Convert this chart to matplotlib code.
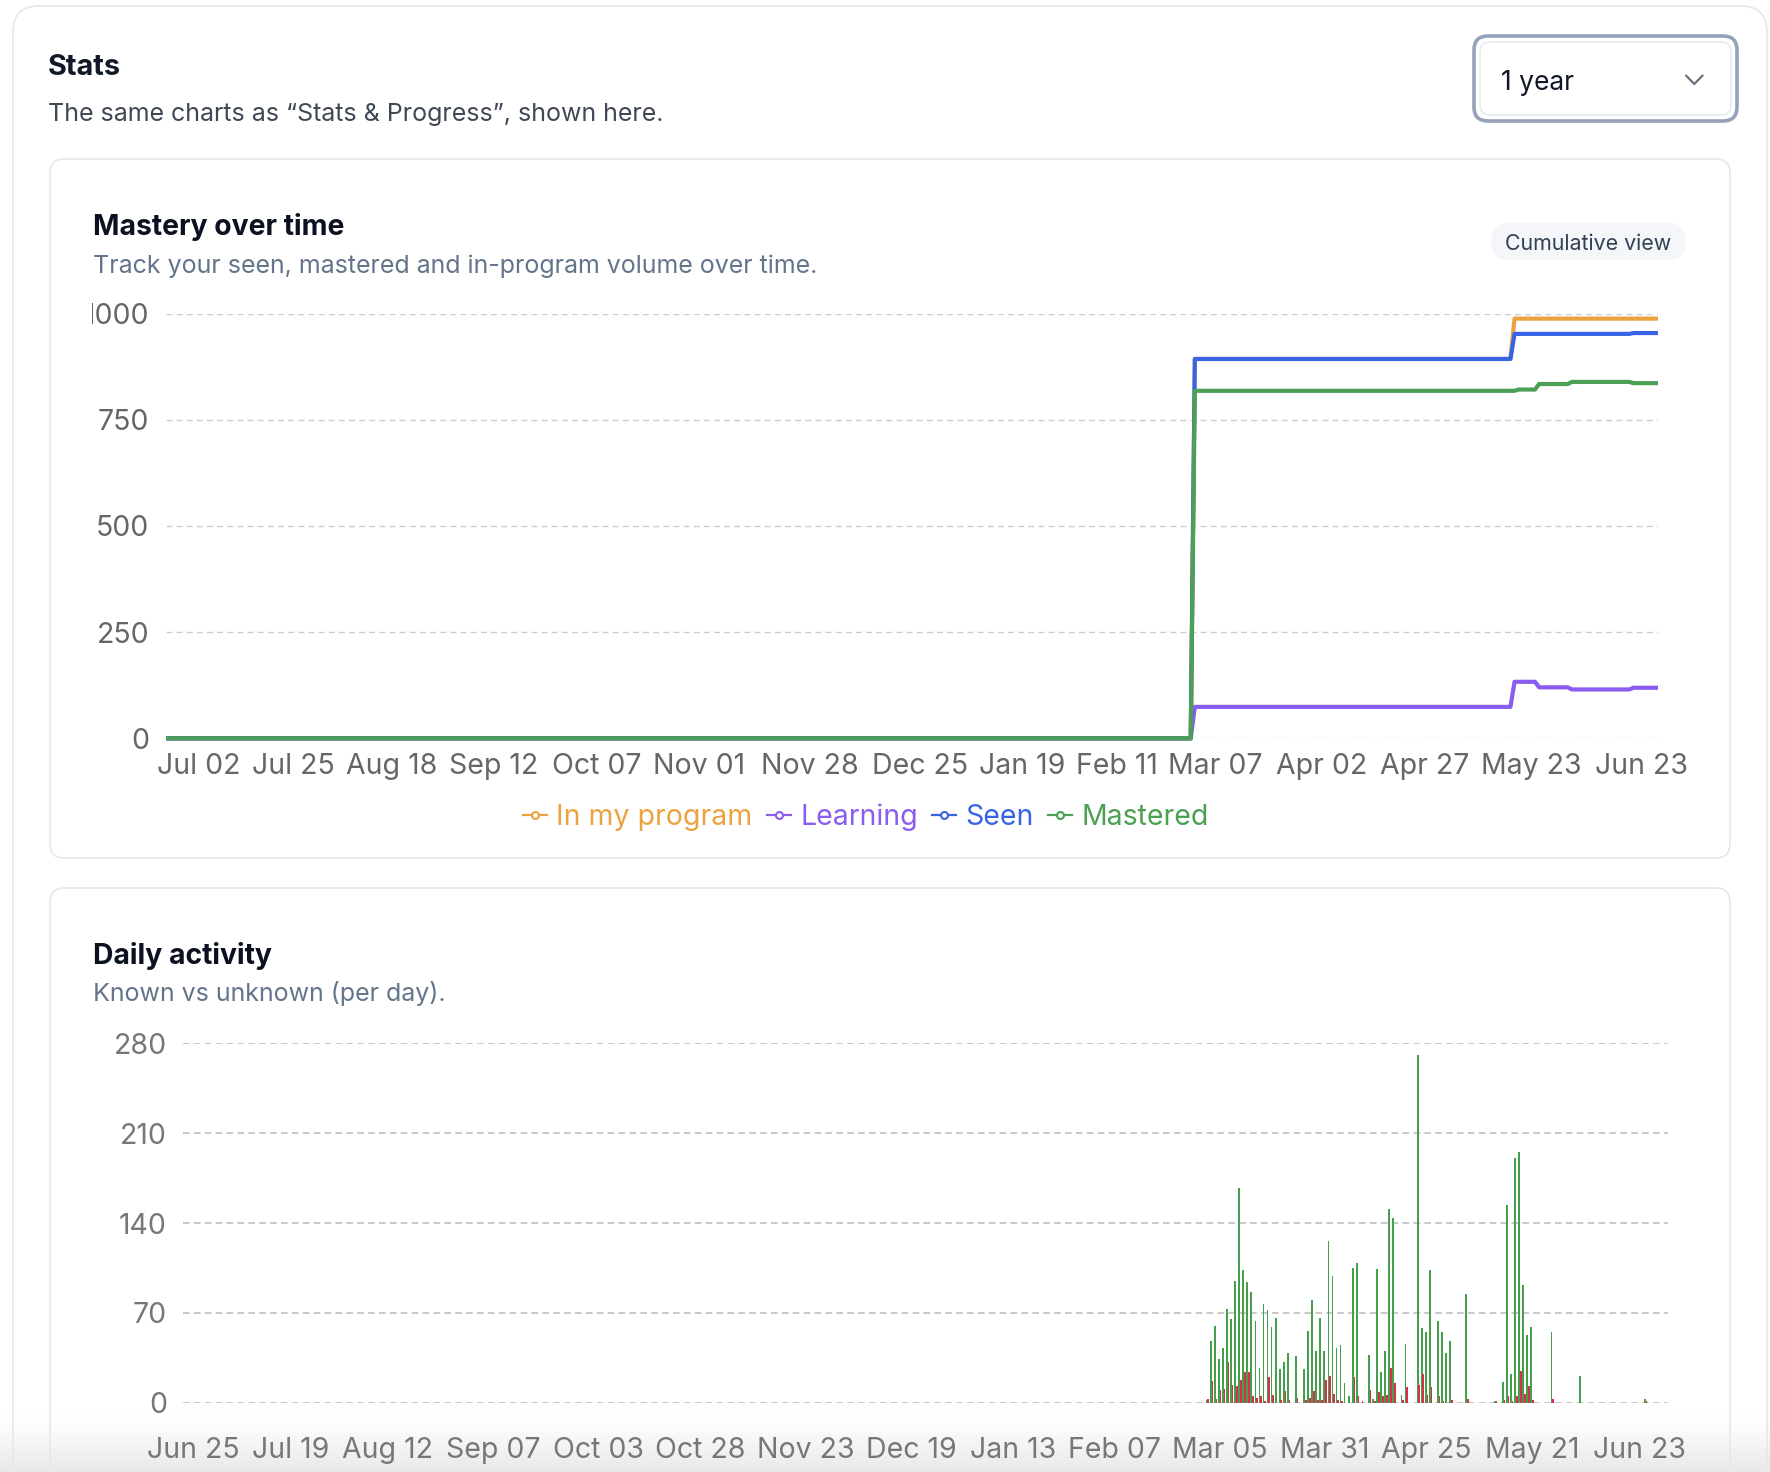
import datetime as dt
import matplotlib
matplotlib.use("Agg")
import matplotlib.pyplot as plt
import matplotlib.dates as mdates
from matplotlib.patches import FancyBboxPatch
from matplotlib.lines import Line2D
from matplotlib.transforms import Bbox, ScaledTranslation
import numpy as np

plt.rcParams['font.family'] = ['Inter', 'DejaVu Sans']

W, H = 1770, 1472

# Mastery over time: cumulative counts at the days where they change
mastery_dates = ["2024-06-24", "2025-03-01", "2025-03-02", "2025-05-18", "2025-05-19",
                 "2025-05-20", "2025-05-24", "2025-05-25", "2025-06-01", "2025-06-02",
                 "2025-06-16", "2025-06-17", "2025-06-23"]
in_program = [0, 0, 893, 893, 988, 988, 988, 988, 988, 988, 988, 988, 988]
learning = [0, 0, 74, 74, 133, 133, 133, 120, 120, 115, 115, 119, 119]
seen = [0, 0, 893, 893, 952, 952, 952, 952, 952, 952, 952, 954, 954]
mastered = [0, 0, 818, 818, 818, 821, 821, 834, 834, 839, 839, 836, 836]
mastery_ticks = ["2024-07-02", "2024-07-25", "2024-08-18", "2024-09-12", "2024-10-07",
                 "2024-11-01", "2024-11-28", "2024-12-25", "2025-01-19", "2025-02-11",
                 "2025-03-07", "2025-04-02", "2025-04-27", "2025-05-23", "2025-06-23"]

# Daily activity (known vs unknown), one value per day starting 2025-03-02
activity_start = "2025-03-02"
known = [2, 48, 60, 34, 43, 73, 65, 95, 167, 103, 94, 86, 64, 27, 77, 72, 59, 66, 26, 32,
         39, 0, 36, 0, 26, 56, 80, 40, 66, 40, 126, 99, 43, 45, 15, 5, 105, 109, 0, 0,
         37, 3, 104, 24, 40, 151, 144, 0, 6, 46, 0, 0, 271, 58, 55, 103, 0, 64, 55, 39,
         48, 0, 0, 0, 85, 0, 0, 0, 0, 0, 0, 1, 0, 16, 154, 22, 191, 195, 92, 53,
         59, 0, 0, 0, 0, 55, 0, 0, 0, 0, 0, 0, 21, 0, 0, 0, 0, 0, 0, 0,
         0, 0, 0, 0, 0, 0, 0, 0, 3]
unknown = [3, 17, 3, 10, 11, 32, 14, 13, 18, 24, 24, 5, 4, 5, 1, 20, 6, 0, 2, 9,
           2, 0, 4, 0, 2, 4, 9, 2, 2, 18, 21, 7, 2, 1, 0, 0, 20, 5, 1, 0,
           10, 1, 8, 5, 6, 27, 15, 0, 2, 12, 0, 0, 14, 22, 6, 12, 0, 5, 1, 0,
           2, 0, 0, 0, 3, 0, 0, 0, 0, 0, 0, 1, 0, 2, 5, 1, 5, 25, 7, 13,
           2, 0, 0, 0, 0, 3, 0, 0, 0, 0, 0, 0, 0, 0, 0, 0, 0, 0, 0, 0,
           0, 0, 0, 0, 0, 0, 0, 0, 1]
activity_ticks = ["2024-06-25", "2024-07-19", "2024-08-12", "2024-09-07", "2024-10-03",
                  "2024-10-28", "2024-11-23", "2024-12-19", "2025-01-13", "2025-02-07",
                  "2025-03-05", "2025-03-31", "2025-04-25", "2025-05-21", "2025-06-23"]

orange, purple, blue, green = "#eba340", "#8b5cf0", "#3864e4", "#4ca054"
bar_green, bar_red = "#45a04c", "#d6304d"
TICK = 20.5


def d2n(s):
    return mdates.date2num(dt.datetime.strptime(s, "%Y-%m-%d"))


def fmt(s):
    return dt.datetime.strptime(s, "%Y-%m-%d").strftime("%b %d")


fig = plt.figure(figsize=(W / 100, H / 100), dpi=100)

# page background, cards and header widgets in pixel coordinates
bg = fig.add_axes([0, 0, 1, 1])
bg.set_xlim(0, W)
bg.set_ylim(H, 0)
bg.axis("off")


def card(x, y, w, h, r, fill="white", edge="#e5e7eb", lw=1.2, z=1):
    bg.add_patch(FancyBboxPatch((x, y), w, h, boxstyle=f"round,pad=0,rounding_size={r}",
                                facecolor=fill, edgecolor="none", zorder=z))
    bg.add_patch(FancyBboxPatch((x, y), w, h, boxstyle=f"round,pad=0,rounding_size={r}",
                                facecolor="none", edgecolor=edge, linewidth=lw, zorder=z + 3))


card(13, 6, 1754, 1600, 26)
card(50, 159, 1680, 699, 14, z=2)
card(50, 888, 1680, 700, 14, z=2)

# bottom fade of the screenshot
grad = np.zeros((60, 2, 4))
grad[..., :3] = 0.91
grad[..., 3] = np.linspace(0, 1, 60)[:, None] ** 1.3
bg.imshow(grad, extent=(0, W, 1472, 1412), aspect="auto", zorder=4, interpolation="bilinear")
bg.set_xlim(0, W)
bg.set_ylim(H, 0)

# header
bg.text(48, 75, "Stats", fontsize=20.8, fontweight="bold", color="#111827", va="baseline")
bg.text(48, 121, "The same charts as \u201cStats & Progress\u201d, shown here.", fontsize=18,
        color="#404856", va="baseline")
card(1474, 36, 263, 85, 14, edge="#94a3b8", lw=2.6, z=6)
bg.add_patch(FancyBboxPatch((1480, 42), 251, 73, boxstyle="round,pad=0,rounding_size=10",
                            facecolor="none", edgecolor="#e2e8f0", linewidth=1, zorder=10))
bg.text(1501, 80, "1 year", fontsize=19, color="#111827", va="center_baseline", zorder=12)
bg.plot([1686, 1694.3, 1702.6], [75.5, 84, 75.5], color="#6b7280", lw=1.6, zorder=12,
        solid_capstyle="round", solid_joinstyle="round")

# chart 1 header
bg.text(93, 235, "Mastery over time", fontsize=20.4, fontweight="bold", color="#0b1120",
        va="baseline")
bg.text(93, 272.5, "Track your seen, mastered and in-program volume over time.", fontsize=18,
        color="#64748b", va="baseline")
bg.add_patch(FancyBboxPatch((1491, 223), 195, 37, boxstyle="round,pad=0,rounding_size=18.5",
                            facecolor="#f4f6f9", edgecolor="none", zorder=10))
bg.text(1588.5, 241.5, "Cumulative view", fontsize=15.4, color="#334155", ha="center",
        va="center_baseline", zorder=11)

# chart 2 header
bg.text(93, 964.5, "Daily activity", fontsize=20.4, fontweight="bold", color="#0b1120",
        va="baseline")
bg.text(93, 1001.5, "Known vs unknown (per day).", fontsize=18, color="#64748b", va="baseline")

# ---- Mastery over time ----
ax1 = fig.add_axes([166 / W, 1 - 738.3 / H, (1658 - 166) / W, (738.3 - 313.5) / H])
ax1.patch.set_alpha(0)
mx = [d2n(s) for s in mastery_dates]
for vals, col, name in [(in_program, orange, "In my program"), (learning, purple, "Learning"),
                        (seen, blue, "Seen"), (mastered, green, "Mastered")]:
    ax1.plot(mx, vals, color=col, lw=3.0, solid_joinstyle="round", solid_capstyle="butt",
             clip_on=False, label=name)
ax1.set_xlim(d2n("2024-06-24"), d2n("2025-06-23"))
ax1.set_ylim(0, 1000)
ax1.set_yticks([0, 250, 500, 750, 1000], ["0", "250", "500", "750", "1000"])
ax1.set_xticks([d2n(s) for s in mastery_ticks], [fmt(s) for s in mastery_ticks])
ax1.grid(axis="y", color="#cccccc", lw=1.0, linestyle=(0, (4.3, 3)))
ax1.tick_params(length=0, labelsize=TICK, labelcolor="#666666")
ax1.tick_params(axis="x", pad=10.5)
ax1.tick_params(axis="y", pad=12)
for sp in ax1.spines.values():
    sp.set_visible(False)

handles = [Line2D([0], [0], color=c, lw=1.6, marker="o", markersize=5, markerfacecolor="white",
                  markeredgewidth=1.5) for c in (orange, purple, blue, green)]
fig.legend(handles, ["In my program", "Learning", "Seen", "Mastered"], loc="center",
           bbox_to_anchor=(866 / W, 1 - 817 / H), ncol=4, frameon=False, fontsize=20.5,
           labelcolor="linecolor", handlelength=0.85, handletextpad=0.32, columnspacing=0.5,
           borderpad=0)

# ---- Daily activity ----
ax2 = fig.add_axes([183 / W, 1 - 1402.7 / H, 1485 / W, (1402.7 - 1043.3) / H])
ax2.patch.set_alpha(0)
start = d2n(activity_start)
days = start + np.arange(len(known))
ax2.bar(days - 0.2, known, width=0.42, color=bar_green, zorder=3)
ax2.bar(days + 0.2, unknown, width=0.42, color=bar_red, zorder=3)
ax2.set_xlim(d2n("2024-06-23") - 0.5, d2n("2025-06-23") + 0.5)
ax2.set_ylim(0, 280)
ax2.set_yticks([0, 70, 140, 210, 280], ["0", "70", "140", "210", "280"])
ax2.set_xticks([d2n(s) for s in activity_ticks], [fmt(s) for s in activity_ticks])
ax2.grid(axis="y", color="#c8c8c8", lw=1.4, linestyle=(0, (3.4, 2.2)), zorder=0)
ax2.set_axisbelow(True)
ax2.tick_params(length=0, labelsize=TICK, labelcolor="#777777")
ax2.tick_params(axis="x", pad=24.5)
ax2.tick_params(axis="y", pad=11.5)
for sp in ax2.spines.values():
    sp.set_visible(False)

fig.canvas.draw()
# the last date label sits a little left of its day, as in the app
for ax, dx in ((ax1, -17), (ax2, -26)):
    last = ax.get_xticklabels()[-1]
    last.set_transform(last.get_transform() + ScaledTranslation(dx / 100, 0, fig.dpi_scale_trans))
# the y axis column is narrow, so "1000" gets cut on the left
for lab in ax1.get_yticklabels():
    if lab.get_text() == "1000":
        lab.set_clip_box(Bbox.from_extents(92.3, 0, W, H))
        lab.set_clip_on(True)

fig.savefig("out.png", dpi=100)
